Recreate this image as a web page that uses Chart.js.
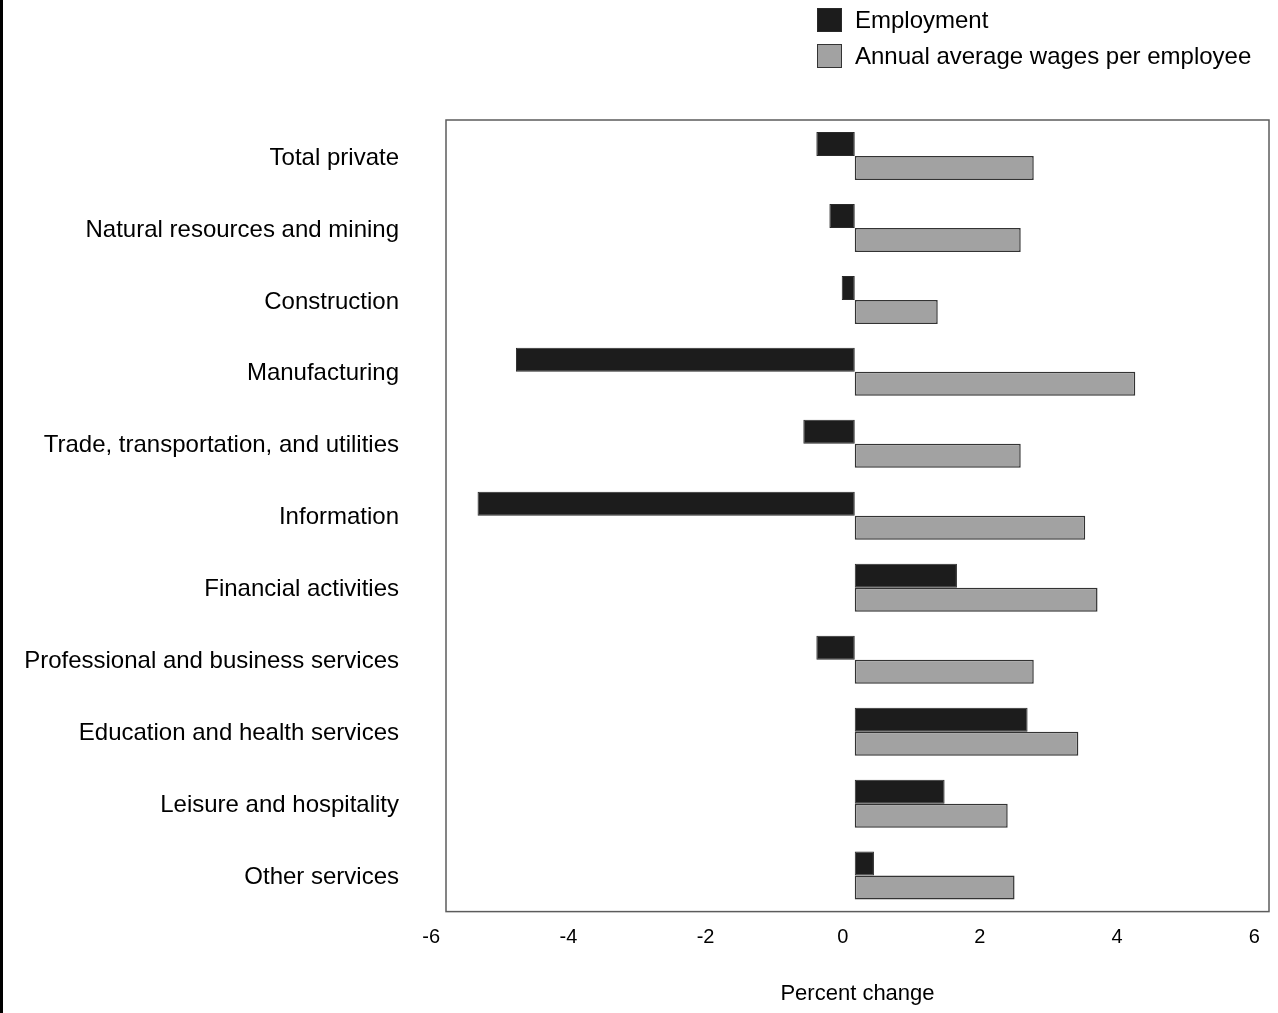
<!DOCTYPE html>
<html>
<head>
<meta charset="utf-8">
<script src="https://cdn.jsdelivr.net/npm/chart.js@4.4.1/dist/chart.umd.min.js"></script>
<style>
  html, body { margin: 0; padding: 0; background: #fff; }
  #wrap { position: relative; width: 1278px; height: 1013px; overflow: hidden; }
  #leftRule { position: absolute; left: 0; top: 0; width: 3px; height: 1013px; background: #000; }
  #legend { position: absolute; left: 817px; top: 8px; font-family: Arial, "Liberation Sans", sans-serif; font-size: 24px; color: #000; }
  #legend .it { display: flex; align-items: center; height: 24px; margin-bottom: 12px; }
  #legend .sw { width: 23px; height: 22px; margin-right: 13px; box-sizing: content-box; }
</style>
</head>
<body>
<div id="wrap">
  <canvas id="c"></canvas>
  <div id="leftRule"></div>
  <div id="legend"></div>
</div>
<script>
// industries, top to bottom
const categories = [
  'Total private',
  'Natural resources and mining',
  'Construction',
  'Manufacturing',
  'Trade, transportation, and utilities',
  'Information',
  'Financial activities',
  'Professional and business services',
  'Education and health services',
  'Leisure and hospitality',
  'Other services'
];

// percent change
const employment = [-0.56, -0.37, -0.19, -4.94, -0.75, -5.50, 1.49, -0.56, 2.52, 1.31, 0.28];
const wages = [2.61, 2.42, 1.21, 4.09, 2.42, 3.36, 3.54, 2.61, 3.26, 2.23, 2.33];

const xTicks = [-6, -4, -2, 0, 2, 4, 6];

const FONT = 'Arial, "Liberation Sans", sans-serif';

// box round the plot area
const areaBorder = {
  id: 'areaBorder',
  afterDatasetsDraw(chart) {
    const { ctx, chartArea: a } = chart;
    ctx.save();
    ctx.strokeStyle = '#5c5c5c';
    ctx.lineWidth = 1.5;
    ctx.strokeRect(a.left, a.top, a.right - a.left, a.bottom - a.top);
    ctx.restore();
  }
};

const chart = new Chart(document.getElementById('c'), {
  type: 'bar',
  data: {
    labels: categories,
    datasets: [
      {
        label: 'Employment',
        data: employment,
        backgroundColor: '#1c1c1c',
        borderColor: '#2a2a2a',
        borderWidth: 1,
        borderSkipped: false,
        categoryPercentage: 0.667,
        barPercentage: 1
      },
      {
        label: 'Annual average wages per employee',
        data: wages,
        backgroundColor: '#a2a2a2',
        borderColor: '#333333',
        borderWidth: 1.5,
        borderSkipped: false,
        categoryPercentage: 0.667,
        barPercentage: 1
      }
    ]
  },
  plugins: [areaBorder],
  options: {
    indexAxis: 'y',
    responsive: true,
    maintainAspectRatio: false,
    animation: false,
    layout: { padding: { top: 120, right: 9, bottom: 6, left: 0 } },
    plugins: {
      legend: { display: false },
      tooltip: { enabled: false },
      title: { display: false }
    },
    scales: {
      x: {
        min: -5.96,
        max: 6.04,
        afterBuildTicks: (s) => { s.ticks = xTicks.map(v => ({ value: v })); },
        afterFit: (s) => { s.paddingLeft = 0; s.paddingRight = 0; },
        grid: { display: false, drawTicks: false },
        border: { display: false },
        ticks: {
          color: '#000',
          padding: 14,
          labelOffset: -12,
          font: { family: FONT, size: 20 }
        },
        title: {
          display: true,
          text: 'Percent change',
          color: '#000',
          font: { family: FONT, size: 22 },
          padding: { top: 17, bottom: 0 }
        }
      },
      y: {
        afterFit: (s) => { s.width = 446; },
        grid: { display: false, drawTicks: false },
        border: { display: false },
        ticks: {
          color: '#000',
          padding: 47,
          labelOffset: 2,
          font: { family: FONT, size: 24 }
        }
      }
    }
  }
});

// legend, stacked like the original
const lg = document.getElementById('legend');
chart.data.datasets.forEach(ds => {
  const it = document.createElement('div');
  it.className = 'it';
  const sw = document.createElement('span');
  sw.className = 'sw';
  sw.style.background = ds.backgroundColor;
  sw.style.border = '1px solid ' + ds.borderColor;
  const tx = document.createElement('span');
  tx.textContent = ds.label;
  it.appendChild(sw);
  it.appendChild(tx);
  lg.appendChild(it);
});
</script>
</body>
</html>
